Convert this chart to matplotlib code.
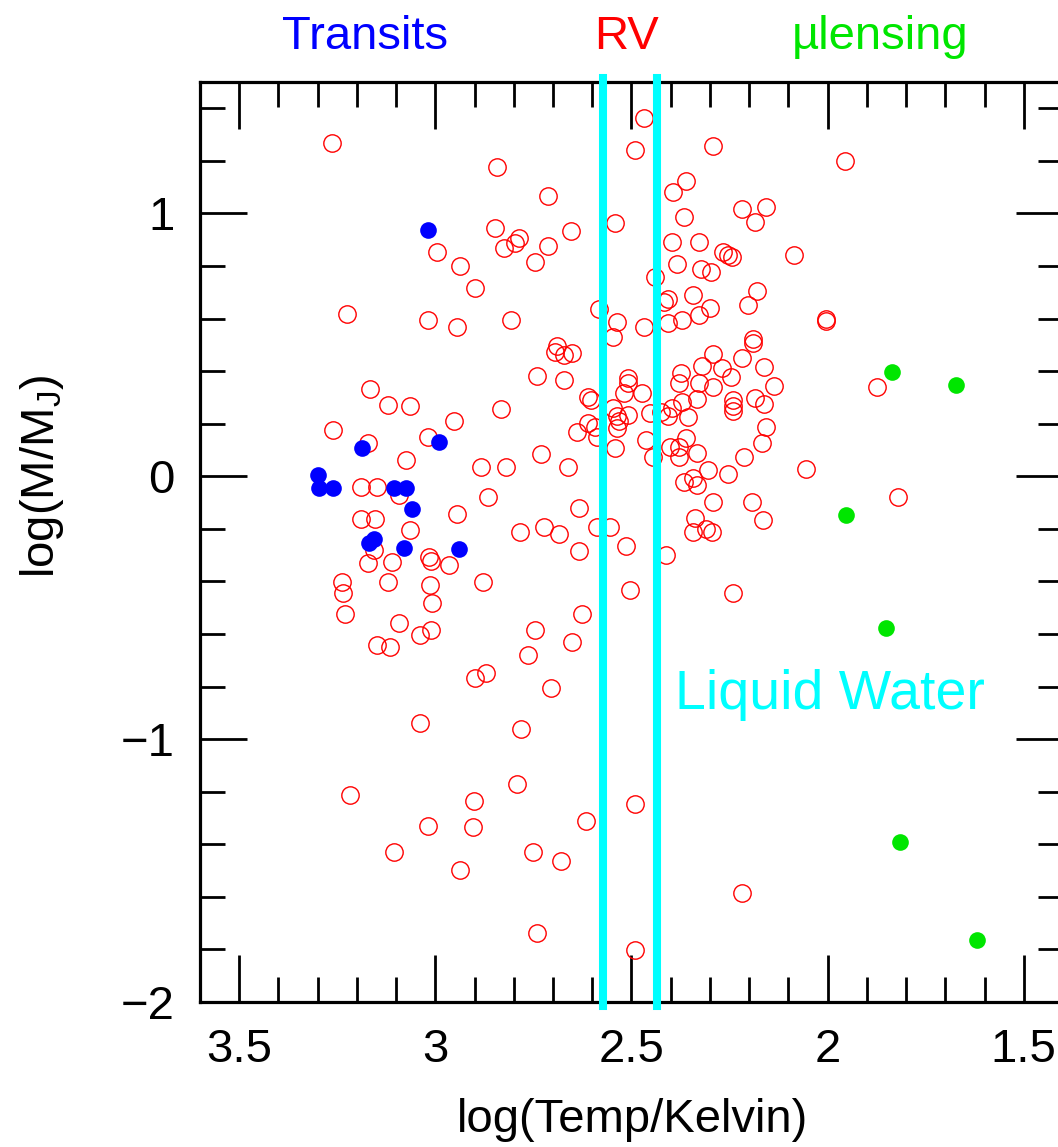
import matplotlib.pyplot as plt
from matplotlib.ticker import MultipleLocator

# RV planets (open red circles): log(T/K), log(M/MJ)
red_x = [3.263, 2.467, 2.492, 2.291, 1.957, 2.842, 2.714, 2.362, 2.395, 2.543,
         2.219, 2.158, 2.186, 2.367, 2.847, 2.786, 2.798, 2.824, 2.712, 2.653,
         2.745, 2.997, 2.936, 2.898, 2.398, 2.329, 2.268, 2.255, 2.245, 2.087,
         2.385, 2.324, 2.298, 2.439, 3.224, 3.020, 2.946, 2.806, 2.582, 2.538,
         2.546, 2.469, 2.406, 2.416, 2.344, 2.301, 2.329, 2.179, 2.204, 2.372,
         2.408, 2.003, 2.005, 2.691, 2.694, 2.671, 2.651, 2.189, 2.189, 2.291,
         2.219, 2.321, 2.270, 2.247, 2.163, 2.375, 2.378, 2.329, 2.291, 2.138,
         2.510, 2.508, 2.518, 2.472, 1.875, 2.740, 2.673, 3.166, 3.120, 3.064,
         2.832, 2.952, 3.260, 3.173, 3.020, 3.074, 2.883, 2.821, 2.730, 2.663,
         2.612, 2.602, 2.594, 2.638, 2.589, 2.612, 2.548, 2.538, 2.531, 2.510,
         2.538, 2.543, 2.372, 2.334, 2.242, 2.242, 2.242, 2.186, 2.161, 2.454,
         2.426, 2.408, 2.398, 2.357, 2.156, 2.168, 2.462, 2.446, 2.401, 2.378,
         2.378, 2.360, 2.332, 2.214, 2.306, 2.255, 2.365, 2.344, 2.332, 2.056,
         2.293, 2.194, 2.166, 2.339, 2.342, 2.309, 2.296, 2.556, 2.515, 2.413,
         1.821, 2.505, 2.242, 3.189, 3.148, 3.092, 2.865, 3.189, 3.153, 3.064,
         2.944, 2.635, 2.783, 2.724, 2.686, 2.587, 2.635, 3.173, 3.156, 3.110,
         3.015, 3.010, 2.964, 3.237, 3.235, 3.122, 3.013, 3.008, 2.878, 3.230,
         3.092, 3.010, 3.038, 3.148, 3.115, 2.745, 2.651, 2.625, 2.763, 2.898,
         2.870, 2.704, 3.038, 2.781, 3.217, 2.793, 2.901, 3.020, 2.903, 2.617,
         3.105, 2.750, 2.679, 2.936, 2.740, 2.490, 2.490, 2.219]
red_y = [1.268, 1.363, 1.241, 1.256, 1.199, 1.176, 1.066, 1.123, 1.081, 0.963,
         1.016, 1.024, 0.967, 0.986, 0.944, 0.906, 0.887, 0.868, 0.876, 0.933,
         0.815, 0.853, 0.799, 0.716, 0.891, 0.891, 0.853, 0.841, 0.834, 0.841,
         0.807, 0.788, 0.777, 0.758, 0.617, 0.594, 0.567, 0.594, 0.636, 0.586,
         0.529, 0.567, 0.674, 0.662, 0.689, 0.640, 0.613, 0.704, 0.651, 0.594,
         0.582, 0.598, 0.590, 0.495, 0.472, 0.461, 0.468, 0.522, 0.506, 0.464,
         0.449, 0.419, 0.411, 0.377, 0.415, 0.392, 0.354, 0.354, 0.339, 0.343,
         0.373, 0.354, 0.316, 0.316, 0.339, 0.381, 0.365, 0.331, 0.270, 0.266,
         0.255, 0.209, 0.175, 0.126, 0.148, 0.061, 0.034, 0.034, 0.084, 0.034,
         0.301, 0.289, 0.187, 0.168, 0.148, 0.202, 0.259, 0.228, 0.209, 0.232,
         0.183, 0.107, 0.282, 0.293, 0.289, 0.266, 0.247, 0.297, 0.274, 0.240,
         0.244, 0.228, 0.259, 0.225, 0.187, 0.126, 0.137, 0.072, 0.110, 0.110,
         0.072, 0.145, 0.088, 0.072, 0.023, 0.008, -0.023, -0.008, -0.034, 0.027,
         -0.099, -0.099, -0.168, -0.160, -0.213, -0.202, -0.213, -0.194, -0.266, -0.301,
         -0.080, -0.434, -0.445, -0.042, -0.042, -0.072, -0.080, -0.164, -0.164, -0.206,
         -0.145, -0.122, -0.213, -0.194, -0.221, -0.194, -0.286, -0.331, -0.282, -0.327,
         -0.308, -0.324, -0.339, -0.404, -0.445, -0.404, -0.415, -0.483, -0.404, -0.525,
         -0.560, -0.586, -0.605, -0.640, -0.651, -0.586, -0.632, -0.525, -0.678, -0.769,
         -0.750, -0.807, -0.940, -0.963, -1.211, -1.169, -1.237, -1.332, -1.336, -1.313,
         -1.428, -1.431, -1.462, -1.496, -1.736, -1.245, -1.801, -1.584]

# transiting planets (filled blue)
blue_x = [3.020, 3.186, 2.992, 3.298, 3.296, 3.260, 3.105, 3.074, 3.059, 3.168,
          3.156, 3.079, 2.941]
blue_y = [0.937, 0.107, 0.129, 0.004, -0.046, -0.046, -0.046, -0.046, -0.126, -0.255,
          -0.240, -0.274, -0.278]

# microlensing planets (filled green)
green_x = [1.837, 1.673, 1.954, 1.850, 1.816, 1.620]
green_y = [0.396, 0.346, -0.148, -0.579, -1.393, -1.763]

# liquid water band, log(273) .. log(373)
water_x = [2.436, 2.572]

xticks = [3.5, 3.0, 2.5, 2.0, 1.5]
xtick_labels = ['3.5', '3', '2.5', '2', '1.5']
yticks = [1, 0, -1, -2]
ytick_labels = ['1', '0', '\u22121', '\u22122']

green = '#00e600'

plt.rcParams['font.family'] = ['Liberation Sans', 'DejaVu Sans']
plt.rcParams['mathtext.fontset'] = 'custom'
plt.rcParams['mathtext.rm'] = 'Liberation Sans'
plt.rcParams['mathtext.it'] = 'Liberation Sans:italic'

W, H = 1058, 1147
fs = 34
fig = plt.figure(figsize=(W / 100, H / 100), dpi=100)
ax = fig.add_axes([200 / W, 145 / H, 863 / W, 920 / H])

ax.plot(red_x, red_y, 'o', ms=12.5, mfc='none', mec='red', mew=1.0, zorder=2)
ax.plot(blue_x, blue_y, 'o', ms=12, color='blue', mec='none', zorder=3)
ax.plot(green_x, green_y, 'o', ms=12, color=green, mec='none', zorder=3)

for xv in water_x:
    ax.axvline(xv, ymin=-0.004, ymax=1.004, color='cyan', lw=5.8, zorder=5, clip_on=False)

ax.text(2.39, -0.885, 'Liquid Water', color='cyan', fontsize=40, va='baseline', ha='left')

ax.set_xlim(3.6, 1.4)
ax.set_ylim(-2, 1.5)
ax.set_xticks(xticks)
ax.set_xticklabels(xtick_labels)
ax.set_yticks(yticks)
ax.set_yticklabels(ytick_labels)
ax.xaxis.set_minor_locator(MultipleLocator(0.1))
ax.yaxis.set_minor_locator(MultipleLocator(0.2))
ax.tick_params(which='both', direction='in', top=True, right=True, width=2,
               labelsize=fs, color='black')
ax.tick_params(which='major', length=34)
ax.tick_params(which='minor', length=18)
ax.tick_params(axis='x', pad=19)
ax.tick_params(axis='y', pad=18)
for s in ax.spines.values():
    s.set_linewidth(2.3)

fig.text(633 / W, 1 - 1120 / H, 'log(Temp/Kelvin)', fontsize=fs, ha='center', va='center')
fig.text(42 / W, 1 - 476 / H, 'log(M/M$_\\mathrm{J}$)', fontsize=fs, rotation=90,
         ha='center', va='center')

fig.text(365 / W, 1 - 49 / H, 'Transits', color='blue', fontsize=fs, ha='center', va='baseline')
fig.text(627 / W, 1 - 49 / H, 'RV', color='red', fontsize=fs, ha='center', va='baseline')
fig.text(880 / W, 1 - 49 / H, '\u00b5lensing', color=green, fontsize=fs, ha='center', va='baseline')

fig.savefig('out.png', dpi=100)
